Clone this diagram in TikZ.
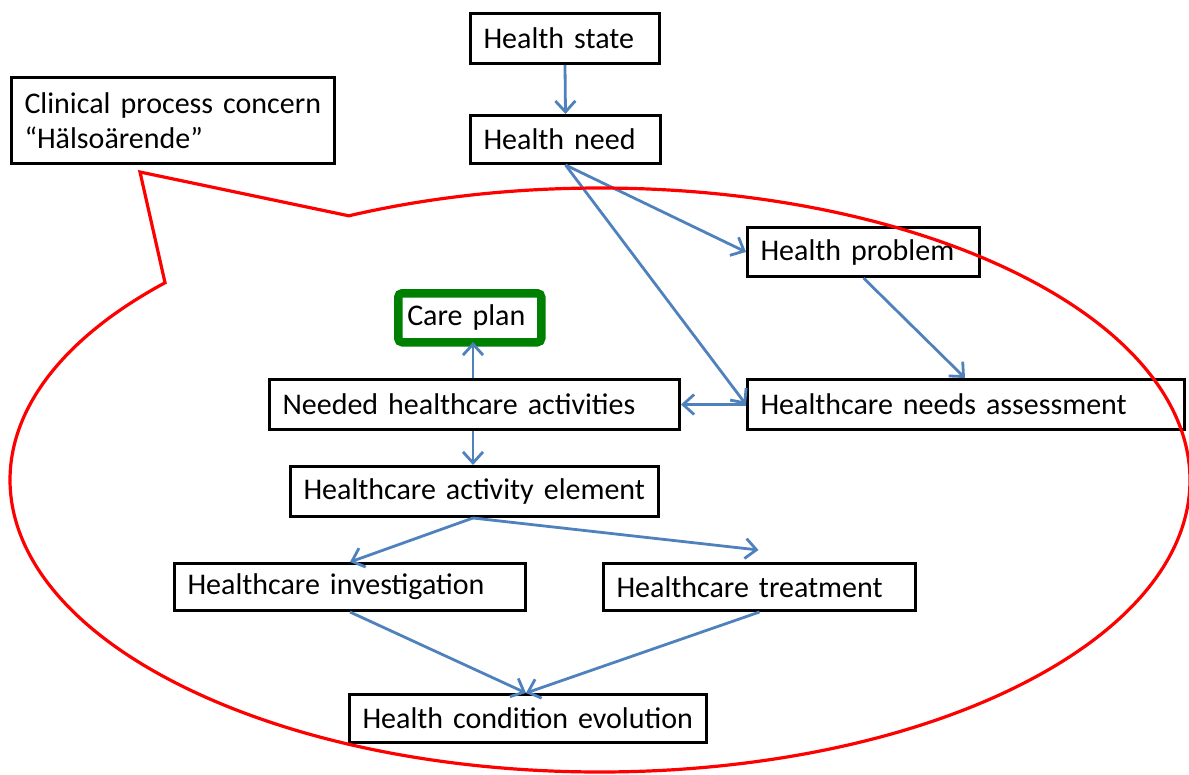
\documentclass[tikz,border=0pt]{standalone}
\usepackage{fontspec}
\setmainfont{Carlito}
\usetikzlibrary{arrows.meta,calc}
\definecolor{linkblue}{HTML}{4F81BD}
\definecolor{planGreen}{HTML}{008000}
\begin{document}
\begin{tikzpicture}[x=1pt,y=1pt,
  box/.style={draw=black, line width=3pt, rectangle, anchor=north west,
    inner xsep=13pt, inner ysep=0pt, align=left,
    font=\fontsize{30}{35}\selectfont},
  planbox/.style={box, draw=planGreen, line width=8.5pt, rounded corners=4pt, inner xsep=9pt},
  link/.style={draw=linkblue, line width=2.8pt,
    -{Straight Barb[length=11pt,width=20pt,line width=2.8pt]}},
  bubble/.style={draw=red, line width=3.2pt, line join=miter}]
\clip (0,0) rectangle (1189,-774);

% concept boxes
\node[box, minimum width=189, minimum height=50, text width=163] (hstate) at (469,-12) {Health state};
\node[box, minimum width=190, minimum height=48, text width=164] (hneed) at (469,-114) {Health need};
\node[box, minimum width=323, minimum height=86, text width=297] (concern) at (10,-76) {Clinical process concern\\“Hälsoärende”};
\node[box, minimum width=232, minimum height=49, text width=206] (hprob) at (746,-226) {Health problem};
\node[planbox, minimum width=143, minimum height=49, text width=125] (care) at (394,-289) {Care plan};
\node[box, minimum width=410, minimum height=50, text width=384] (needed) at (268,-378) {Needed healthcare activities};
\node[box, minimum width=437, minimum height=50, text width=411] (assess) at (746,-378) {Healthcare needs assessment};
\node[box, minimum width=368, minimum height=50, text width=342] (elem) at (289,-465) {Healthcare activity element};
\node[box, minimum width=351, minimum height=47, text width=325] (invest) at (173,-562) {Healthcare investigation};
\node[box, minimum width=312, minimum height=47, text width=286] (treat) at (602,-562) {Healthcare treatment};
\node[box, minimum width=357, minimum height=48, text width=331] (evol) at (348,-693) {Health condition evolution};

% connectors
\coordinate (treattip) at ($(treat.north)+(-1,12)$);
\draw[link] (hstate.south) -- (hneed.north);
\draw[link] (hneed.south) -- (hprob.west);
\draw[link] (hneed.south) -- (assess.west);
\draw[link] (hprob.south) -- ($(assess.north west)+(219,0)$);
\draw[link] (assess.west) -- (needed.east);
\draw[link] ($(needed.north west)+(205,0)$) -- ($(needed.north west)+(205,36)$);
\draw[link] ($(needed.south west)+(205,0)$) -- ($(elem.north west)+(184,0)$);
\draw[link] ($(elem.south west)+(184,0)$) -- (invest.north);
\draw[link] ($(elem.south west)+(184,0)$) -- (treattip);
\draw[link] (invest.south) -- ($(evol.north)+(-2,0)$);
\draw[link] (treat.south) -- ($(evol.north)+(-2,0)$);

% speech-bubble outline around the process concern
\begin{scope}[shift={(600,-480)}]
\draw[bubble] (137.5:590pt and 292pt)
  arc[start angle=137.5, end angle=475.2, x radius=590pt, y radius=292pt]
  -- (-460,308) -- cycle;
\end{scope}
\end{tikzpicture}
\end{document}
